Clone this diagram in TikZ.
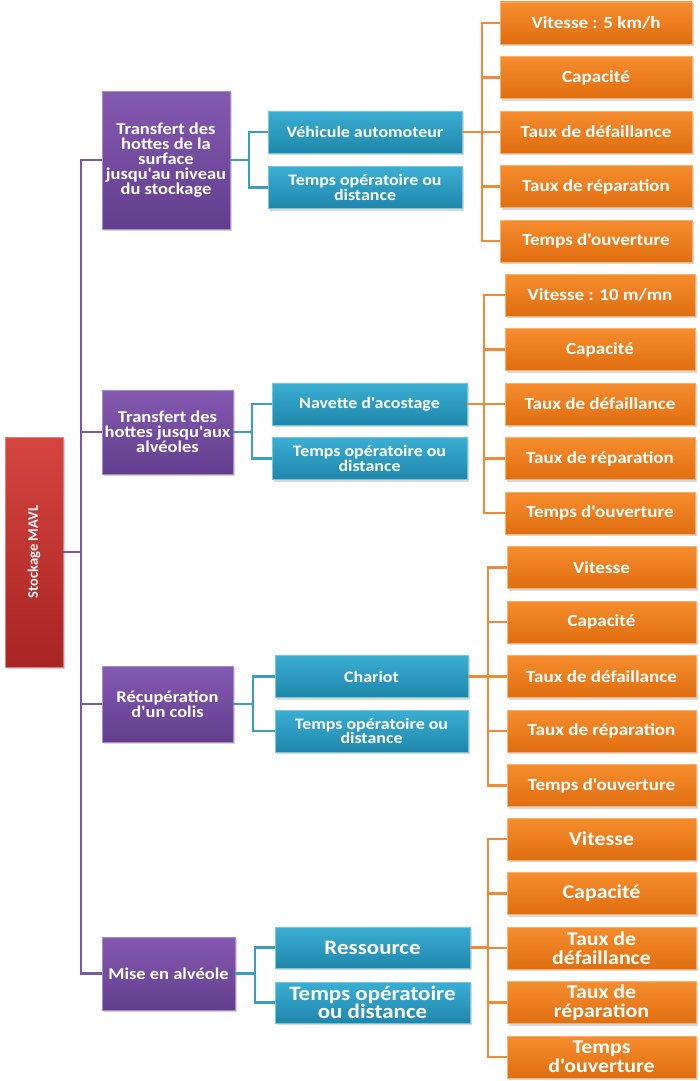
\documentclass[tikz,border=0pt]{standalone}
\usepackage{fontspec}
\newfontfamily\dfont{Carlito}[FakeStretch=1.12]
\newfontfamily\rfont{Carlito}
\usetikzlibrary{shadows}
\definecolor{pupT}{HTML}{8459B0}
\definecolor{pupB}{HTML}{633E8E}
\definecolor{pupL}{HTML}{7B58A6}
\definecolor{cyaT}{HTML}{3AAFD3}
\definecolor{cyaB}{HTML}{1F86AB}
\definecolor{cyaL}{HTML}{3A9EC0}
\definecolor{oraT}{HTML}{F78D2E}
\definecolor{oraB}{HTML}{DF6E10}
\definecolor{oraL}{HTML}{F08A38}
\definecolor{redT}{HTML}{D5453F}
\definecolor{redB}{HTML}{A82424}
\tikzset{
  box/.style={rectangle, inner sep=1pt, text=white, align=center,
    drop shadow={shadow xshift=2pt, shadow yshift=-2pt, opacity=.3}},
  rootbox/.style={box, top color=redT, bottom color=redB, draw=redT!70!white, line width=.6pt,
    minimum width=58pt, minimum height=230pt},
  roottext/.style={rotate=90, text=white, font=\rfont\bfseries\fontsize{14.5}{16}\selectfont},
  pbox/.style={box, top color=pupT, bottom color=pupB, draw=pupT!70!white, line width=.6pt,
    font=\dfont\bfseries\fontsize{16.5}{15}\selectfont},
  cbox/.style={box, top color=cyaT, bottom color=cyaB, draw=cyaT!70!white, line width=.6pt,
    font=\dfont\bfseries\fontsize{16}{14.5}\selectfont, minimum height=42pt},
  obox/.style={box, top color=oraT, bottom color=oraB, draw=oraT!70!white, line width=.6pt,
    font=\dfont\bfseries\fontsize{17}{16}\selectfont, minimum height=42pt},
  bigc/.style={font=\dfont\bfseries\fontsize{20.5}{16}\selectfont},
  bigo/.style={font=\dfont\bfseries\fontsize{19.5}{19}\selectfont},
  plink/.style={draw=pupL, line width=2.6pt},
  clink/.style={draw=cyaL, line width=2.6pt},
  olink/.style={draw=oraL, line width=2.7pt},
}
\begin{document}
\begin{tikzpicture}[x=1pt,y=-1pt]
\useasboundingbox (0,0) rectangle (700,1081);
\fill[white] (0,0) rectangle (700,1081);

% vertical connector positions
\coordinate (vr) at (81,0);
\coordinate (v1) at (249,0);
\coordinate (v2) at (252,0);
\coordinate (v3) at (253,0);
\coordinate (v4) at (255,0);
\coordinate (w1) at (482,0);
\coordinate (w2) at (484,0);
\coordinate (w3) at (488,0);
\coordinate (w4) at (488,0);

% root
\node[rootbox] (root) at (34,552) {};
\node[roottext] (roottxt) at (root.center) {Stockage MAVL};

% level 1
\node[pbox, minimum width=128pt, minimum height=138pt] (p1) at (166,160)
  {Transfert des\\hottes de la\\surface\\jusqu'au niveau\\du stockage};
\node[pbox, minimum width=131pt, minimum height=84pt] (p2) at (167.5,432)
  {Transfert des\\hottes jusqu'aux\\alvéoles};
\node[pbox, minimum width=131pt, minimum height=76pt] (p3) at (167.5,704)
  {Récupération\\d'un colis};
\node[pbox, minimum width=133pt, minimum height=73pt] (p4) at (168.5,973.5)
  {Mise en alvéole};

% level 2
\node[cbox, minimum width=194pt] (c1a) at (365,132) {Véhicule automoteur};
\node[cbox, minimum width=194pt] (c1b) at (365,187.5) {Temps opératoire ou\\distance};
\node[cbox, minimum width=195pt] (c2a) at (369.5,404) {Navette d'acostage};
\node[cbox, minimum width=195pt] (c2b) at (369.5,458.5) {Temps opératoire ou\\distance};
\node[cbox, minimum width=193pt] (c3a) at (371.5,676.5) {Chariot};
\node[cbox, minimum width=193pt] (c3b) at (371.5,731) {Temps opératoire ou\\distance};
\node[cbox, bigc, minimum width=195pt, minimum height=41pt] (c4a) at (372.5,947.5) {Ressource};
\node[cbox, bigc, minimum width=195pt, minimum height=41pt] (c4b) at (372.5,1002.5) {Temps opératoire\\ou distance};

% level 3, group 1
\node[obox, minimum width=192pt] (o11) at (596,23) {Vitesse : 5 km/h};
\node[obox, minimum width=192pt] (o12) at (596,77.5) {Capacité};
\node[obox, minimum width=192pt] (o13) at (596,132) {Taux de défaillance};
\node[obox, minimum width=192pt] (o14) at (596,186.5) {Taux de réparation};
\node[obox, minimum width=192pt] (o15) at (596,241) {Temps d'ouverture};
% group 2
\node[obox, minimum width=190pt] (o21) at (600,295) {Vitesse : 10 m/mn};
\node[obox, minimum width=190pt] (o22) at (600,349.5) {Capacité};
\node[obox, minimum width=190pt] (o23) at (600,404) {Taux de défaillance};
\node[obox, minimum width=190pt] (o24) at (600,458.5) {Taux de réparation};
\node[obox, minimum width=190pt] (o25) at (600,513) {Temps d'ouverture};
% group 3
\node[obox, minimum width=189pt] (o31) at (601.5,567.5) {Vitesse};
\node[obox, minimum width=189pt] (o32) at (601.5,622) {Capacité};
\node[obox, minimum width=189pt] (o33) at (601.5,676.5) {Taux de défaillance};
\node[obox, minimum width=189pt] (o34) at (601.5,731) {Taux de réparation};
\node[obox, minimum width=189pt] (o35) at (601.5,785.5) {Temps d'ouverture};
% group 4
\node[obox, bigo, minimum width=189pt] (o41) at (601.5,839) {Vitesse};
\node[obox, bigo, minimum width=189pt] (o42) at (601.5,893.5) {Capacité};
\node[obox, bigo, minimum width=189pt] (o43) at (601.5,948) {Taux de\\défaillance};
\node[obox, bigo, minimum width=189pt] (o44) at (601.5,1002.5) {Taux de\\réparation};
\node[obox, bigo, minimum width=189pt] (o45) at (601.5,1057) {Temps\\d'ouverture};

% connectors
\foreach \p in {p1,p2,p3,p4}{
  \draw[plink] (root.east) -- (root.east -| vr) |- (\p.west);
}
\foreach \g/\v in {1/v1,2/v2,3/v3,4/v4}{
  \draw[clink] (p\g.east) -- (p\g.east -| \v) |- (c\g a.west);
  \draw[clink] (p\g.east -| \v) |- (c\g b.west);
}
\foreach \g/\w in {1/w1,2/w2,3/w3,4/w4}{
  \foreach \k in {1,2,3,4,5}{
    \draw[olink] (c\g a.east) -- (c\g a.east -| \w) |- (o\g\k.west);
  }
}
\end{tikzpicture}
\end{document}
